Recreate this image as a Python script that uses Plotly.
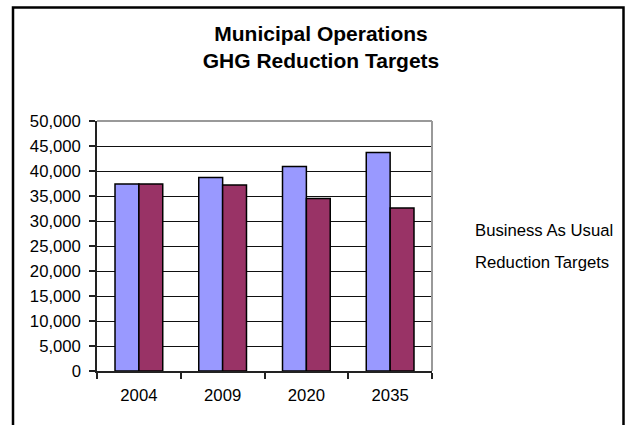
import plotly.graph_objects as go

years = ["2004", "2009", "2020", "2035"]
business_as_usual = [37400, 38700, 40900, 43700]
reduction_targets = [37400, 37200, 34500, 32600]
series_names = ["Business As Usual", "Reduction Targets"]
y_ticks = [0, 5000, 10000, 15000, 20000, 25000, 30000, 35000, 40000, 45000, 50000]

FONT = "Liberation Sans, Arial, sans-serif"
W, H = 628, 425
L, T = 97, 121
R = W - 432
B = H - 371
pw, ph = W - L - R, H - T - B

def px_x(p):
    return (p - L) / pw

def px_y(p):
    return (H - B - p) / ph

fig = go.Figure()
fig.add_trace(go.Bar(x=years, y=business_as_usual, name=series_names[0],
                     marker=dict(color="#9999FF", line=dict(color="#000000", width=1.5))))
fig.add_trace(go.Bar(x=years, y=reduction_targets, name=series_names[1],
                     marker=dict(color="#993366", line=dict(color="#000000", width=1.5))))

fig.update_layout(
    width=W, height=H,
    margin=dict(l=L, r=R, t=T, b=B, pad=0),
    paper_bgcolor="white", plot_bgcolor="white",
    barmode="group", bargap=0.43, bargroupgap=0,
    showlegend=False,
    font=dict(family=FONT, size=16.7, color="#000000"),
    title=dict(text="<b>Municipal Operations<br>GHG Reduction Targets</b>",
               font=dict(family=FONT, size=21, color="#000000"),
               xref="paper", x=px_x(321), xanchor="center",
               yref="container", y=1 - 41 / H, yanchor="middle"),
    xaxis=dict(type="category", showgrid=False, showline=True, linecolor="#222222", linewidth=1.5,
               ticks="outside", ticklen=6, tickcolor="#222222", tickwidth=1.5,
               tickson="boundaries", ticklabelstandoff=8,
               tickfont=dict(family=FONT, size=16.7, color="#000000")),
    yaxis=dict(range=[0, 50000], tickvals=y_ticks,
               ticktext=[f"{v:,}" for v in y_ticks],
               showgrid=True, gridcolor="#111111", gridwidth=1,
               showline=True, linecolor="#222222", linewidth=1.5,
               ticks="outside", ticklen=6, tickcolor="#222222", tickwidth=1.5,
               ticklabelstandoff=5, zeroline=False,
               tickfont=dict(family=FONT, size=16.7, color="#000000")),
)

# plot-area border (top and right, grey)
fig.add_shape(type="line", xref="paper", yref="paper", x0=0, x1=1, y0=1, y1=1,
              line=dict(color="#999999", width=2), layer="above")
fig.add_shape(type="line", xref="paper", yref="paper", x0=1, x1=1, y0=0, y1=1,
              line=dict(color="#999999", width=2), layer="above")

# outer chart frame
fig.add_shape(type="rect", xref="paper", yref="paper",
              x0=px_x(13), x1=px_x(623.5), y0=px_y(440), y1=px_y(7.5),
              line=dict(color="#000000", width=2.5), fillcolor="rgba(0,0,0,0)", layer="above")

# legend text (no swatches, as in reference)
for name, py in zip(series_names, [230.7, 262]):
    fig.add_annotation(text=name, xref="paper", yref="paper", x=px_x(473), y=px_y(py),
                       xanchor="left", yanchor="middle", showarrow=False,
                       font=dict(family=FONT, size=16.7, color="#000000"))

fig.write_html(
    "out.html",
    config={"displayModeBar": False},
    post_script="document.body.style.margin='0';document.body.style.overflow='hidden';",
)
